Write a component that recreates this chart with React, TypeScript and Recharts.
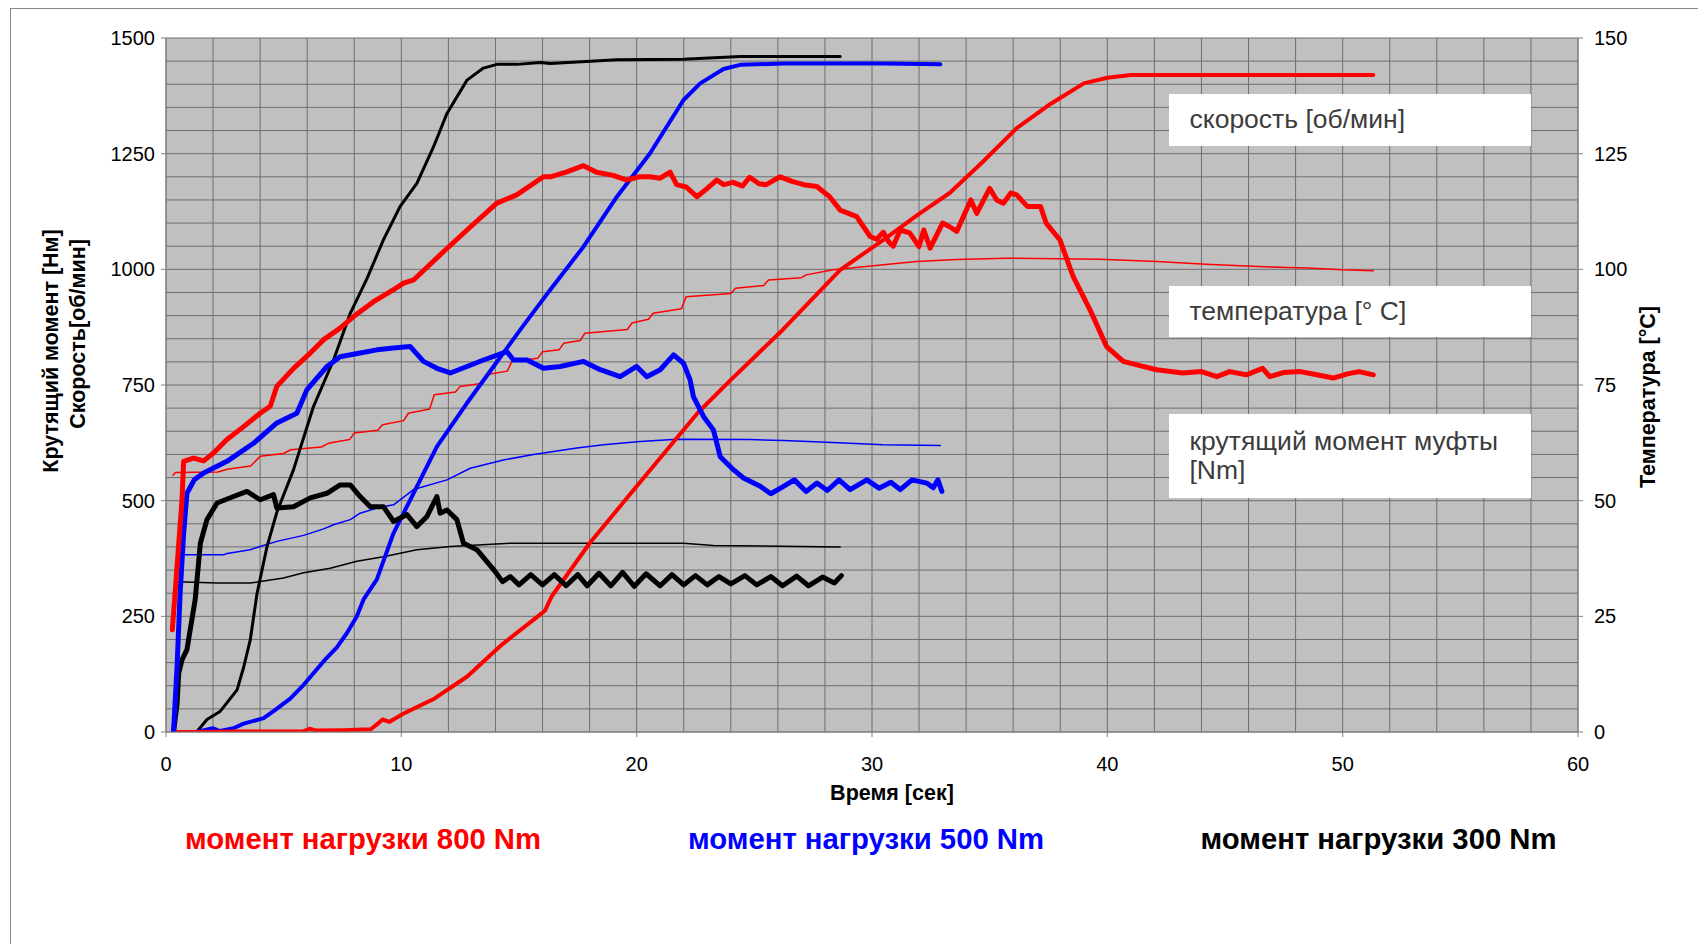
import React from 'react';
import { LineChart, Line, XAxis, YAxis, CartesianGrid } from 'recharts';

type P = [number, number];

// time [s], value — load torque 800 Nm (red)
const speed800: P[] = [[0.3,0],[1,0],[3,1],[5.8,1],[6.1,7],[6.4,3],[7.5,4],[8.7,6],[9.0,18],[9.2,27],[9.5,22],[10.1,40],[11.4,72],[12.8,120],[14.3,190],[15.8,250],[16.1,262],[16.4,294],[18,408],[20,531],[22.6,690],[24,761],[26.2,869],[28.65,999],[30.5,1064],[32,1120],[33.3,1165],[34.7,1232],[36.15,1305],[37.6,1358],[39,1402],[40,1414],[41,1420],[51.3,1420]];
const torque800: P[] = [[0.27,221],[0.47,358],[0.68,502],[0.75,585],[1.17,592],[1.6,586],[2.02,603],[2.59,632],[3.3,660],[4.0,689],[4.43,704],[4.71,747],[5.42,786],[6.13,819],[6.7,848],[7.4,873],[7.97,898],[8.82,930],[9.67,956],[10.1,970],[10.52,977],[11.79,1038],[12.79,1085],[14.06,1143],[14.9,1161],[16.04,1200],[16.33,1200],[17.0,1210],[17.74,1224],[18.3,1210],[19.0,1203],[19.58,1193],[20.1,1200],[20.57,1200],[21.0,1197],[21.42,1210],[21.7,1183],[22.1,1178],[22.56,1157],[23.0,1175],[23.4,1193],[23.7,1183],[24.1,1188],[24.5,1180],[24.8,1199],[25.2,1185],[25.5,1183],[26.1,1200],[26.6,1190],[27.1,1183],[27.66,1179],[28.2,1157],[28.65,1128],[29.35,1114],[29.92,1071],[30.2,1065],[30.48,1080],[30.7,1060],[30.9,1050],[31.2,1085],[31.6,1079],[32.0,1049],[32.2,1085],[32.47,1046],[33.0,1100],[33.3,1092],[33.6,1082],[34.2,1150],[34.45,1121],[35.0,1175],[35.3,1150],[35.58,1143],[35.9,1165],[36.15,1161],[36.6,1136],[37.16,1136],[37.4,1100],[37.98,1064],[38.55,984],[39.27,912],[39.97,833],[40.68,801],[41.3,793],[42.1,783],[43.2,776],[44.0,779],[44.65,768],[45.2,779],[45.9,772],[46.6,786],[46.9,768],[47.5,777],[48.2,779],[48.9,772],[49.6,765],[50.2,774],[50.7,779],[51.3,772]];
const temp800: P[] = [[0.3,55.5],[0.4,56.1],[2.2,56.2],[2.6,56.8],[3.6,57.5],[4.0,59.6],[5.0,60.2],[5.3,61.0],[6.6,61.6],[6.9,62.4],[7.8,63.2],[8.0,64.6],[9.0,65.2],[9.2,66.4],[10.1,67.3],[10.3,68.9],[11.2,69.8],[11.4,72.9],[12.3,73.5],[12.5,74.7],[13.4,75.3],[13.6,77.2],[14.5,78.0],[14.7,80.1],[15.8,80.8],[16.0,82.2],[16.7,82.6],[16.9,84.0],[17.6,84.6],[17.8,86.2],[19.6,87.0],[19.8,88.4],[20.5,89.2],[20.7,90.5],[21.9,91.5],[22.1,94.1],[24.0,94.8],[24.2,95.9],[25.4,96.5],[25.6,97.7],[27.0,98.2],[27.2,98.8],[28.36,99.9],[30.48,101.0],[31.9,101.7],[33.6,102.1],[35.7,102.4],[39.7,102.2],[42.1,101.7],[44.2,101.1],[46.4,100.6],[48.5,100.3],[50.0,99.9],[51.3,99.7]];

// load torque 500 Nm (blue)
const speed500: P[] = [[1.3,0],[2.0,8],[2.3,2],[2.87,8],[3.3,18],[4.15,30],[4.57,45],[5.28,72],[5.85,102],[6.7,153],[7.26,183],[7.69,214],[8.11,250],[8.39,286],[8.96,330],[9.67,430],[10.52,516],[11.51,617],[12.79,711],[13.92,790],[15.05,869],[15.9,927],[16.33,956],[17.74,1049],[19.16,1157],[20.57,1251],[21.99,1366],[22.7,1402],[23.69,1433],[24.4,1442],[26.24,1445],[30.48,1445],[32.9,1443]];
const torque500: P[] = [[0.32,0],[0.47,142],[0.6,300],[0.75,430],[0.89,516],[1.2,545],[1.6,560],[2.59,585],[3.72,624],[4.71,668],[5.56,689],[5.99,740],[6.84,790],[7.4,811],[8.25,819],[8.96,826],[9.67,830],[10.38,833],[10.94,801],[11.51,786],[12.08,776],[12.79,790],[13.49,804],[14.49,822],[14.77,804],[15.34,804],[16.04,786],[16.75,790],[17.74,801],[18.45,783],[19.3,768],[20.0,790],[20.43,768],[21.0,783],[21.57,815],[21.99,797],[22.27,761],[22.41,725],[22.84,682],[23.26,653],[23.55,595],[24.11,567],[24.54,549],[25.25,531],[25.7,515],[26.24,531],[26.7,545],[27.2,520],[27.66,538],[28.1,522],[28.6,545],[29.07,524],[29.78,545],[30.3,527],[30.8,540],[31.2,524],[31.7,545],[32.33,538],[32.6,528],[32.8,545],[32.97,520]];
const temp500: P[] = [[0.6,38.3],[2.45,38.3],[2.6,38.6],[3.58,39.4],[4.0,40.1],[4.71,41.2],[5.85,42.5],[6.7,43.9],[7.12,44.8],[7.83,45.9],[8.25,47.3],[8.96,48.4],[9.67,49.1],[10.52,52.4],[11.94,54.5],[12.93,57.0],[14.34,58.8],[15.62,60.0],[16.33,60.5],[17.46,61.4],[18.59,62.1],[20.15,62.8],[21.7,63.3],[24.8,63.2],[26.24,63.0],[28.08,62.6],[30.48,62.1],[32.9,61.9]];

// load torque 300 Nm (black)
const speed300: P[] = [[1.3,0],[1.74,27],[2.31,45],[3.02,91],[3.3,140],[3.58,199],[3.87,300],[4.29,400],[4.71,475],[5.42,567],[6.27,704],[7.12,804],[7.83,905],[8.54,980],[9.24,1064],[9.95,1136],[10.66,1186],[11.37,1265],[11.94,1337],[12.79,1409],[13.49,1435],[14.06,1443],[14.91,1443],[15.9,1447],[16.33,1445],[19.16,1453],[21.99,1454],[24.4,1460],[26.24,1460],[28.65,1460]];
const torque300: P[] = [[0.32,0],[0.47,60],[0.54,127],[0.68,156],[0.89,178],[1.1,243],[1.24,286],[1.46,408],[1.74,459],[2.17,495],[2.87,509],[3.44,520],[4.0,502],[4.57,513],[4.71,484],[5.42,487],[6.13,506],[6.84,516],[7.4,534],[7.83,534],[8.25,509],[8.68,487],[9.24,487],[9.67,455],[10.24,470],[10.66,444],[11.09,466],[11.51,509],[11.65,473],[11.94,480],[12.36,459],[12.64,408],[13.21,394],[13.92,351],[14.3,325],[14.63,336],[15.0,318],[15.5,340],[16.0,318],[16.5,340],[17.0,316],[17.5,340],[17.9,316],[18.4,343],[18.9,316],[19.4,345],[19.9,315],[20.4,342],[21.0,316],[21.5,340],[22.0,318],[22.5,338],[23.0,318],[23.5,336],[24.0,320],[24.6,338],[25.1,318],[25.7,336],[26.2,316],[26.8,337],[27.3,316],[27.9,335],[28.4,322],[28.7,338]];
const temp300: P[] = [[0.5,32.5],[2.17,32.2],[3.58,32.2],[4.99,33.3],[5.85,34.4],[6.98,35.4],[8.11,36.9],[9.24,37.9],[10.66,39.4],[12.08,40.1],[14.63,40.8],[16.33,40.8],[19.87,40.8],[21.99,40.8],[23.26,40.3],[28.65,40.0]];

// axis ticks (grid every 2 s / 50 units, labels every 10 s / 250 units)
const xTicks = Array.from({ length: 31 }, (_, i) => i * 2);
const leftTicks = Array.from({ length: 31 }, (_, i) => i * 50);
const rightTicks = [0, 25, 50, 75, 100, 125, 150];
const xMajor = 10;
const leftMajor = 250;

const labels = ['скорость [об/мин]', 'температура [° C]', 'крутящий момент муфты [Nm]'];
const legends = [
  { text: 'момент нагрузки 800 Nm', color: '#FF0000' },
  { text: 'момент нагрузки 500 Nm', color: '#0000FF' },
  { text: 'момент нагрузки 300 Nm', color: '#000000' },
];

const pts = (a: P[]) => a.map(([t, v]) => ({ t, v }));
const FONT = '"Liberation Sans", Arial, sans-serif';
const tickStyle = { fill: '#000', fontSize: 20, fontFamily: FONT };

const XTick = (props: any) => {
  const { x, y, payload } = props;
  if (payload.value % xMajor !== 0) return <g />;
  return (
    <g>
      <line x1={x} x2={x} y1={y} y2={y + 5} stroke="#808080" />
      <text x={x} y={y + 25} dy="0.71em" textAnchor="middle" fill="#000" fontSize={20} fontFamily={FONT}>{payload.value}</text>
    </g>
  );
};
const LTick = (props: any) => {
  const { x, y, payload } = props;
  if (payload.value % leftMajor !== 0) return <g />;
  return (
    <g>
      <line x1={x - 5} x2={x} y1={y} y2={y} stroke="#808080" />
      <text x={x - 11} y={y} dy="0.355em" textAnchor="end" fill="#000" fontSize={20} fontFamily={FONT}>{payload.value}</text>
    </g>
  );
};

export default function App() {
  const series = [
    { d: temp800, c: '#FF0000', w: 1.5, y: 'right' },
    { d: temp500, c: '#0000FF', w: 1.5, y: 'right' },
    { d: temp300, c: '#000000', w: 1.5, y: 'right' },
    { d: speed300, c: '#000000', w: 3, y: 'left' },
    { d: speed500, c: '#0000FF', w: 4, y: 'left' },
    { d: speed800, c: '#FF0000', w: 4, y: 'left' },
    { d: torque300, c: '#000000', w: 5, y: 'left' },
    { d: torque500, c: '#0000FF', w: 5, y: 'left' },
    { d: torque800, c: '#FF0000', w: 5, y: 'left' },
  ];
  const boxStyle: React.CSSProperties = {
    position: 'absolute', left: 1160.5, width: 362.5, background: '#fff', color: '#3c3c3c',
    fontFamily: FONT, fontSize: 26.5, paddingLeft: 21, boxSizing: 'border-box',
    display: 'flex', alignItems: 'center', lineHeight: '29px',
  };
  const titleStyle: React.CSSProperties = {
    position: 'absolute', width: 400, transform: 'translate(-50%,-50%) rotate(-90deg)', textAlign: 'center',
    fontFamily: FONT, fontWeight: 'bold', fontSize: 21.5, lineHeight: '27px', color: '#000', whiteSpace: 'nowrap',
  };
  return (
    <div style={{ position: 'relative', width: 1690, height: 936, overflow: 'hidden', background: '#fff' }}>
      <div style={{ position: 'absolute', left: 2, top: 0, width: 2000, height: 2000, border: '1px solid #888' }} />
      <div style={{ position: 'absolute', left: 0, top: 0 }}>
        <LineChart width={1690} height={936} margin={{ top: 30, right: 40, bottom: 152, left: 0 }}>
          <CartesianGrid xAxisId="x" yAxisId="left" stroke="#6e6e6e" strokeWidth={1} fill="#C0C0C0" fillOpacity={1} />
          <XAxis xAxisId="x" type="number" dataKey="t" domain={[0, 60]} ticks={xTicks} interval={0} allowDataOverflow
            height={60} tickSize={0} tickMargin={0} stroke="#808080" tickLine={false} tick={<XTick />} />
          <YAxis yAxisId="left" type="number" domain={[0, 1500]} ticks={leftTicks} interval={0} allowDataOverflow
            width={158} tickSize={0} tickMargin={0} stroke="#808080" tickLine={false} tick={<LTick />} />
          <YAxis yAxisId="right" orientation="right" type="number" domain={[0, 150]} ticks={rightTicks} interval={0} allowDataOverflow
            width={80} tickSize={5} tickMargin={11} stroke="#808080" tick={{ ...tickStyle, textAnchor: 'start' }} />
          {series.map((s, i) => (
            <Line key={i} data={pts(s.d)} dataKey="v" xAxisId="x" yAxisId={s.y} type="linear"
              stroke={s.c} strokeWidth={s.w} dot={false} activeDot={false} isAnimationActive={false}
              strokeLinejoin="round" strokeLinecap="round" />
          ))}
        </LineChart>
      </div>
      <div style={{ ...titleStyle, left: 43, top: 343 }}>Крутящий момент [Нм]</div>
      <div style={{ ...titleStyle, left: 70, top: 326 }}>Скорость[об/мин]</div>
      <div style={{ ...titleStyle, left: 1640, top: 389 }}>Температура [°C]</div>
      <div style={{ position: 'absolute', left: 884, top: 785, transform: 'translate(-50%,-50%)', whiteSpace: 'nowrap',
        fontFamily: FONT, fontWeight: 'bold', fontSize: 21.5, color: '#000' }}>Время [сек]</div>
      {legends.map((l, i) => (
        <div key={i} style={{ position: 'absolute', left: [355, 858, 1370.5][i], top: 831, transform: 'translate(-50%,-50%)',
          whiteSpace: 'nowrap', fontFamily: FONT, fontWeight: 'bold', fontSize: 29.3, color: l.color, lineHeight: 1 }}>{l.text}</div>
      ))}
      <div style={{ ...boxStyle, top: 86, height: 51.7 }}>{labels[0]}</div>
      <div style={{ ...boxStyle, top: 278, height: 51.3 }}>{labels[1]}</div>
      <div style={{ ...boxStyle, top: 406, height: 83.7, paddingRight: 20 }}>{labels[2]}</div>
    </div>
  );
}
